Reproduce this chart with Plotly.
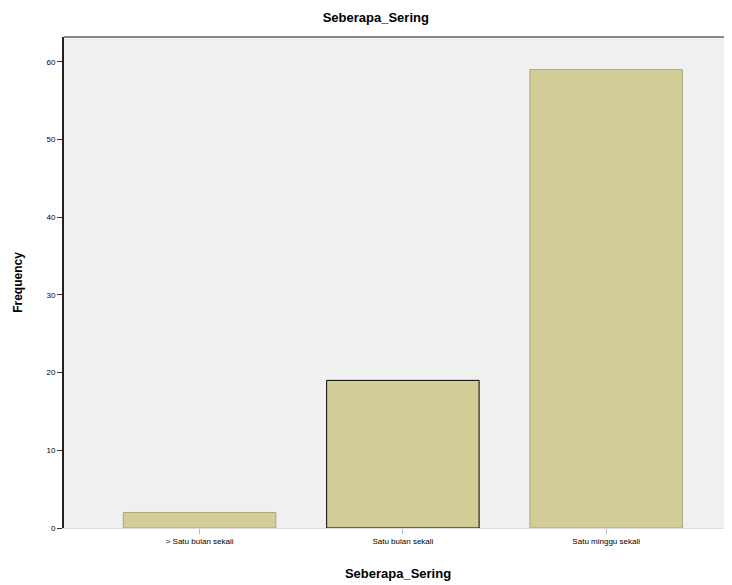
import plotly.graph_objects as go

categories = ["> Satu bulan sekali", "Satu bulan sekali", "Satu minggu sekali"]
frequency = [2, 19, 59]
y_ticks = [0, 10, 20, 30, 40, 50, 60]

BAR_FILL = "#D3CE97"
BG = "#F0F0F0"

fig = go.Figure()

fig.add_trace(go.Bar(
    x=categories,
    y=frequency,
    marker=dict(color=BAR_FILL,
                line=dict(color=["#aaa67a", "#000000", "#aaa67a"], width=1)),
    width=0.75,
))

# page body adds an 8px offset, so the figure is sized to fit the window
fig.update_layout(
    width=724,
    height=577,
    margin=dict(l=56, r=0, t=29, b=57, autoexpand=False),
    paper_bgcolor="white",
    plot_bgcolor=BG,
    showlegend=False,
    font=dict(family="Liberation Sans, Arial, sans-serif", color="black"),
    title=dict(text="<b>Seberapa_Sering</b>", x=0.508, xanchor="center",
               y=0.984, yanchor="middle", font=dict(size=13)),
    xaxis=dict(
        title=dict(text="<b>Seberapa_Sering</b>", font=dict(size=13), standoff=24),
        automargin=False,
        range=[-0.667, 2.619],
        showgrid=False,
        showline=True, linecolor="#dddddd", linewidth=1,
        ticks="outside", ticklen=5, tickcolor="#bbbbbb",
        tickfont=dict(size=8),
    ),
    yaxis=dict(
        title=dict(text="<b>Frequency</b>", font=dict(size=12), standoff=21),
        automargin=False,
        range=[0, 63.2],
        tickvals=y_ticks,
        showgrid=False, zeroline=False,
        showline=True, linecolor="#222222", linewidth=2,
        ticks="outside", ticklen=5, tickcolor="#333333",
        tickfont=dict(size=8),
    ),
    shapes=[dict(type="line", xref="paper", yref="paper", x0=0, x1=1, y0=1, y1=1,
                 line=dict(color="#888888", width=2))],
)

fig.write_html("out.html")
